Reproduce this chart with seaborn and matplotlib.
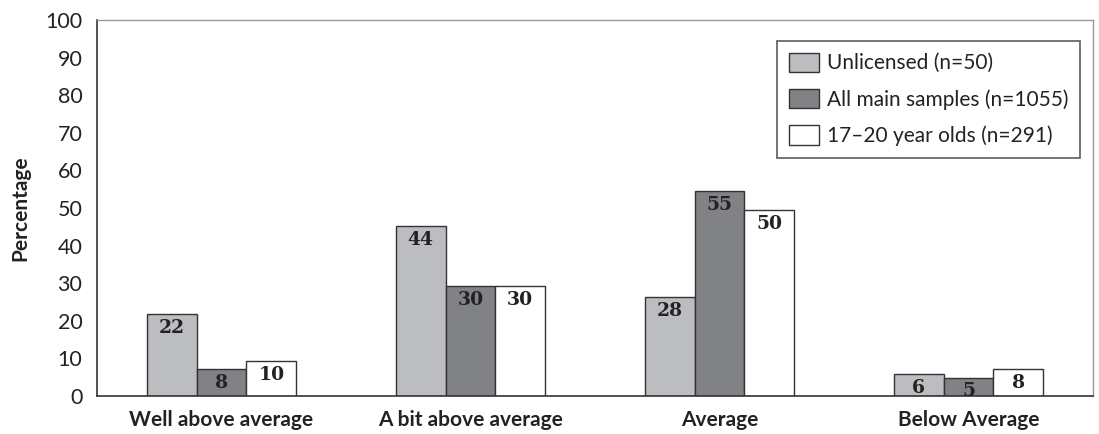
import matplotlib
matplotlib.use("Agg")
import matplotlib.pyplot as plt
import matplotlib.patches as mpatches
import seaborn as sns
import pandas as pd

categories = ["Well above average", "A bit above average", "Average", "Below Average"]
groups = ["Unlicensed (n=50)", "All main samples (n=1055)", "17\u201320 year olds (n=291)"]
unlicensed = [21.8, 45.2, 26.3, 5.8]
all_main = [7.1, 29.2, 54.4, 4.9]
young = [9.2, 29.2, 49.5, 7.2]
unlicensed_labels = ["22", "44", "28", "6"]
all_main_labels = ["8", "30", "55", "5"]
young_labels = ["10", "30", "50", "8"]
colors = ["#bcbdc0", "#808285", "#ffffff"]
yticks = list(range(0, 101, 10))

rows = []
for g, vals in zip(groups, [unlicensed, all_main, young]):
    for c, v in zip(categories, vals):
        rows.append({"category": c, "group": g, "value": v})
df = pd.DataFrame(rows)

sns.set_style("white")
plt.rcParams["font.family"] = ["Lato", "DejaVu Sans"]

fig = plt.figure(figsize=(10.99, 4.34), dpi=100)
ax = fig.add_axes([97 / 1099, 1 - 396 / 434, 996 / 1099, 376 / 434])

sns.barplot(data=df, x="category", y="value", hue="group", order=categories,
            hue_order=groups, palette=dict(zip(groups, colors)), width=0.6,
            edgecolor="#333333", linewidth=1.0, errorbar=None, ax=ax,
            saturation=1.0, legend=False)

for cont, labs in zip(ax.containers, [unlicensed_labels, all_main_labels, young_labels]):
    for bar, lab in zip(cont, labs):
        ax.annotate(lab, (bar.get_x() + bar.get_width() / 2, bar.get_height()),
                    xytext=(0, -3.5), textcoords="offset points", ha="center", va="top",
                    fontsize=13.5, fontweight="bold", family="DejaVu Serif",
                    color="#222222")

ax.set_xlim(-0.5, len(categories) - 0.5)
ax.set_ylim(0, 100)
ax.set_yticks(yticks)
ax.set_yticklabels([str(t) for t in yticks], fontsize=15.5, color="#222222")
ax.tick_params(axis="y", direction="inout", length=12, width=1, color="#333333", pad=4.5)
ax.set_xticks(range(len(categories)))
ax.set_xticklabels(categories, fontsize=15, fontweight="bold", color="#222222")
ax.tick_params(axis="x", which="major", length=0, pad=10)
ax.set_xticks([0.5, 1.5, 2.5], minor=True)
ax.tick_params(axis="x", which="minor", direction="inout", length=14, width=1, color="#333333")
ax.set_xlabel("")
ax.set_ylabel("Percentage", fontsize=15, fontweight="bold", color="#222222", labelpad=11)

for s in ["left", "bottom"]:
    ax.spines[s].set_color("#333333")
    ax.spines[s].set_linewidth(1.2)
for s in ["top", "right"]:
    ax.spines[s].set_color("#999999")
    ax.spines[s].set_linewidth(1.0)

handles = [mpatches.Patch(facecolor=c, edgecolor="#333333", linewidth=1.0) for c in colors]
leg = ax.legend(handles, groups, loc="upper right", bbox_to_anchor=(0.987, 0.944),
                borderaxespad=0,
                fontsize=15, frameon=True, fancybox=False, edgecolor="#333333",
                handlelength=1.45, handleheight=1.05, handletextpad=0.4,
                labelspacing=0.75, borderpad=0.55, labelcolor="#222222")
leg.get_frame().set_linewidth(1.2)

fig.savefig("out.png", dpi=100)
